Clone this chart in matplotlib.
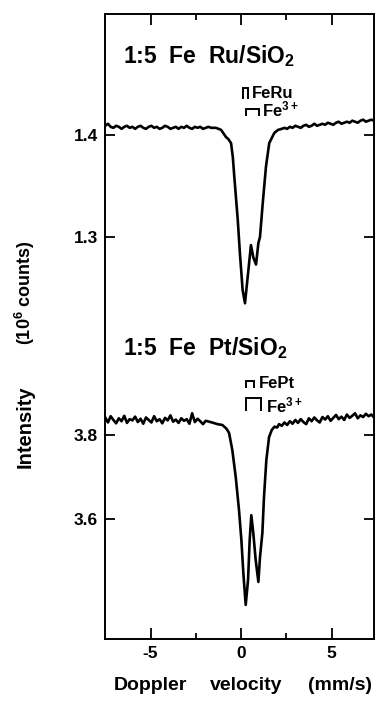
import matplotlib
matplotlib.use('Agg')
import matplotlib.pyplot as plt
from matplotlib.ticker import FixedLocator, FixedFormatter

plt.rcParams['font.family'] = ['Liberation Sans', 'DejaVu Sans']
plt.rcParams['font.weight'] = 'bold'
plt.rcParams['mathtext.fontset'] = 'custom'
plt.rcParams['mathtext.rm'] = 'Liberation Sans:bold'
plt.rcParams['mathtext.bf'] = 'Liberation Sans:bold'
plt.rcParams['mathtext.it'] = 'Liberation Sans:bold'
plt.rcParams['mathtext.default'] = 'rm'

# ---------------- data ----------------
ru_v = [-7.50, -7.35, -7.20, -7.05, -6.90, -6.75, -6.60, -6.45, -6.30, -6.15,
        -6.00, -5.85, -5.70, -5.55, -5.40, -5.25, -5.10, -4.95, -4.80, -4.65,
        -4.50, -4.35, -4.20, -4.05, -3.90, -3.75, -3.60, -3.45, -3.30, -3.15,
        -3.00, -2.85, -2.70, -2.55, -2.40, -2.25, -2.10, -1.95, -1.80, -1.65,
        -1.50,
        -1.38, -1.10, -0.83, -0.70, -0.55, -0.45, -0.37, -0.18, -0.06, 0.09,
        0.22, 0.37, 0.55, 0.68, 0.83, 0.96, 1.05, 1.20, 1.38, 1.56,
        1.84, 2.05,
        2.25, 2.40, 2.55, 2.70, 2.85, 3.00, 3.15, 3.30, 3.45, 3.60,
        3.75, 3.90, 4.05, 4.20, 4.35, 4.50, 4.65, 4.80, 4.95, 5.10,
        5.25, 5.40, 5.55, 5.70, 5.85, 6.00, 6.15, 6.30, 6.45, 6.60,
        6.75, 6.90, 7.05, 7.20, 7.35, 7.50]
ru_i = [1.409, 1.411, 1.408, 1.407, 1.409, 1.408, 1.406, 1.408, 1.409, 1.407,
        1.408, 1.406, 1.408, 1.409, 1.407, 1.406, 1.408, 1.409, 1.407, 1.408,
        1.406, 1.407, 1.409, 1.408, 1.406, 1.407, 1.408, 1.406, 1.408, 1.407,
        1.409, 1.407, 1.406, 1.408, 1.407, 1.408, 1.406, 1.407, 1.408, 1.407,
        1.407,
        1.407, 1.405, 1.398, 1.396, 1.392, 1.378, 1.359, 1.317, 1.284, 1.248,
        1.235, 1.261, 1.292, 1.280, 1.273, 1.294, 1.300, 1.333, 1.369, 1.392,
        1.402, 1.405,
        1.406, 1.407, 1.406, 1.408, 1.407, 1.409, 1.408, 1.407, 1.409, 1.410,
        1.408, 1.409, 1.411, 1.409, 1.410, 1.411, 1.410, 1.412, 1.411, 1.410,
        1.412, 1.413, 1.411, 1.412, 1.413, 1.412, 1.414, 1.413, 1.412, 1.414,
        1.415, 1.413, 1.414, 1.415, 1.414, 1.415]

pt_v = [-7.50, -7.35, -7.20, -7.05, -6.90, -6.75, -6.60, -6.45, -6.30, -6.15,
        -6.00, -5.85, -5.70, -5.55, -5.40, -5.25, -5.10, -4.95, -4.80, -4.65,
        -4.50, -4.35, -4.20, -4.05, -3.90, -3.75, -3.60, -3.45, -3.30, -3.15,
        -3.00, -2.85, -2.70, -2.55, -2.40, -2.25, -2.10, -1.95,
        -1.77, -1.60, -1.30, -1.03, -0.80, -0.66, -0.48, -0.29, -0.11, 0.02,
        0.13, 0.26, 0.39, 0.48, 0.57, 0.68, 0.81, 0.96, 1.05, 1.18,
        1.27, 1.40, 1.55, 1.70, 1.85, 2.00, 2.10,
        2.25, 2.40, 2.55, 2.70, 2.85, 3.00, 3.15, 3.30, 3.45, 3.60,
        3.75, 3.90, 4.05, 4.20, 4.35, 4.50, 4.65, 4.80, 4.95, 5.10,
        5.25, 5.40, 5.55, 5.70, 5.85, 6.00, 6.15, 6.30, 6.45, 6.60,
        6.75, 6.90, 7.05, 7.20, 7.35, 7.50]
pt_i = [3.842, 3.830, 3.845, 3.836, 3.828, 3.840, 3.833, 3.846, 3.829, 3.838,
        3.835, 3.844, 3.831, 3.839, 3.827, 3.842, 3.836, 3.830, 3.845, 3.833,
        3.838, 3.828, 3.841, 3.835, 3.847, 3.832, 3.837, 3.829, 3.840, 3.834,
        3.838, 3.827, 3.852, 3.831, 3.839, 3.833, 3.826, 3.834,
        3.832, 3.830, 3.826, 3.824, 3.815, 3.805, 3.764, 3.699, 3.620, 3.549,
        3.469, 3.393, 3.453, 3.549, 3.608, 3.565, 3.501, 3.448, 3.508, 3.565,
        3.651, 3.740, 3.795, 3.812, 3.820, 3.818, 3.826,
        3.822, 3.830, 3.824, 3.833, 3.827, 3.836, 3.829, 3.838, 3.831, 3.826,
        3.840, 3.833, 3.842, 3.835, 3.830, 3.843, 3.837, 3.845, 3.834, 3.841,
        3.848, 3.838, 3.844, 3.836, 3.849, 3.841, 3.846, 3.852, 3.840, 3.847,
        3.843, 3.851, 3.845, 3.849, 3.842, 3.848]

ru_yticks = [1.3, 1.4]
ru_yticklabels = ['1.3', '1.4']
pt_yticks = [3.6, 3.8]
pt_yticklabels = ['3.6', '3.8']
x_major = [-5, 0, 5]
x_major_labels = ['-5', '0', '5']
x_minor = [-2.5, 2.5]

ru_feru_lines = [0.09, 0.37]
ru_fe3_lines = [0.28, 0.99]
pt_fept_lines = [0.26, 0.72]
pt_fe3_lines = [0.26, 1.10]

ru_title = '1:5  Fe  Ru/SiO$_2$'
pt_title = '1:5  Fe  Pt/SiO$_2$'

# ---------------- layout ----------------
W, H = 375, 706
fig = plt.figure(figsize=(W / 100, H / 100), dpi=100)

def fy(p):
    return 1 - p / H

L, R = 105 / W, 374 / W
top_px, mid_px, bot_px = 14, 330, 639
ax1 = fig.add_axes([L, fy(mid_px), R - L, fy(top_px) - fy(mid_px)])
ax2 = fig.add_axes([L, fy(bot_px), R - L, fy(mid_px) - fy(bot_px)])

xlim = ((105 - 241) / 18.1, (374 - 241) / 18.1)
lw_curve = 1.9
for ax in (ax1, ax2):
    ax.set_xlim(*xlim)
    for s in ax.spines.values():
        s.set_linewidth(1.4)
    ax.xaxis.set_major_locator(FixedLocator(x_major))
    ax.xaxis.set_minor_locator(FixedLocator(x_minor))
    ax.tick_params(axis='x', which='major', direction='in', length=8, width=1.3)
    ax.tick_params(axis='x', which='minor', direction='in', length=4.5, width=1.3)
    ax.tick_params(axis='y', which='major', direction='in', length=7, width=1.3,
                   left=True, right=True, labelsize=12.5, pad=5)
    ax.tick_params(axis='y', which='minor', left=False, right=False)

ax1.plot(ru_v, ru_i, color='black', lw=lw_curve, solid_joinstyle='round')
ax1.set_ylim(1.2088, 1.5186)
ax1.yaxis.set_major_locator(FixedLocator(ru_yticks))
ax1.yaxis.set_major_formatter(FixedFormatter(ru_yticklabels))
ax1.spines['bottom'].set_visible(False)
ax1.tick_params(axis='x', which='both', top=True, bottom=False,
                labeltop=False, labelbottom=False)

ax2.plot(pt_v, pt_i, color='black', lw=lw_curve, solid_joinstyle='round')
ax2.set_ylim(3.3114, 4.0515)
ax2.yaxis.set_major_locator(FixedLocator(pt_yticks))
ax2.yaxis.set_major_formatter(FixedFormatter(pt_yticklabels))
ax2.spines['top'].set_visible(False)
ax2.xaxis.set_major_formatter(FixedFormatter(x_major_labels))
ax2.tick_params(axis='x', which='both', top=False, bottom=True,
                labelsize=12.5, pad=5)

# titles
ax1.text(18 / 269, 0.845, ru_title, transform=ax1.transAxes, fontsize=16.5,
         fontweight='bold', ha='left', va='baseline')
ax2.text(18 / 269, 0.919, pt_title, transform=ax2.transAxes, fontsize=16.5,
         fontweight='bold', ha='left', va='baseline')

# bracket markers
def bracket(ax, xs, ytop, ybot):
    ax.plot([xs[0], xs[0], xs[1], xs[1]], [ybot, ytop, ytop, ybot],
            color='black', lw=1.4, solid_joinstyle='miter')

bracket(ax1, ru_feru_lines, 1.4461, 1.4363)
bracket(ax1, ru_fe3_lines, 1.4255, 1.4196)
ax1.text(0.62, 1.4363, 'FeRu', fontsize=12, ha='left', va='baseline')
ax1.text(1.18, 1.4186, 'Fe$^{3+}$', fontsize=12, ha='left', va='baseline')

bracket(ax2, pt_fept_lines, 3.930, 3.915)
bracket(ax2, pt_fe3_lines, 3.8886, 3.860)
ax2.text(0.99, 3.9126, 'FePt', fontsize=12, ha='left', va='baseline')
ax2.text(1.40, 3.855, 'Fe$^{3+}$', fontsize=12, ha='left', va='baseline')

# axis labels
fig.text(25 / W, fy(427), 'Intensity', rotation=90, fontsize=14.5,
         ha='center', va='center')
fig.text(25 / W, fy(293), '(10$^6$ counts)', rotation=90, fontsize=13,
         ha='center', va='center')
fig.text(150 / W, fy(685), 'Doppler', fontsize=14, ha='center', va='center')
fig.text(246 / W, fy(685), 'velocity', fontsize=14, ha='center', va='center')
fig.text(340 / W, fy(685), '(mm/s)', fontsize=14, ha='center', va='center')

fig.savefig('out.png', dpi=100)
